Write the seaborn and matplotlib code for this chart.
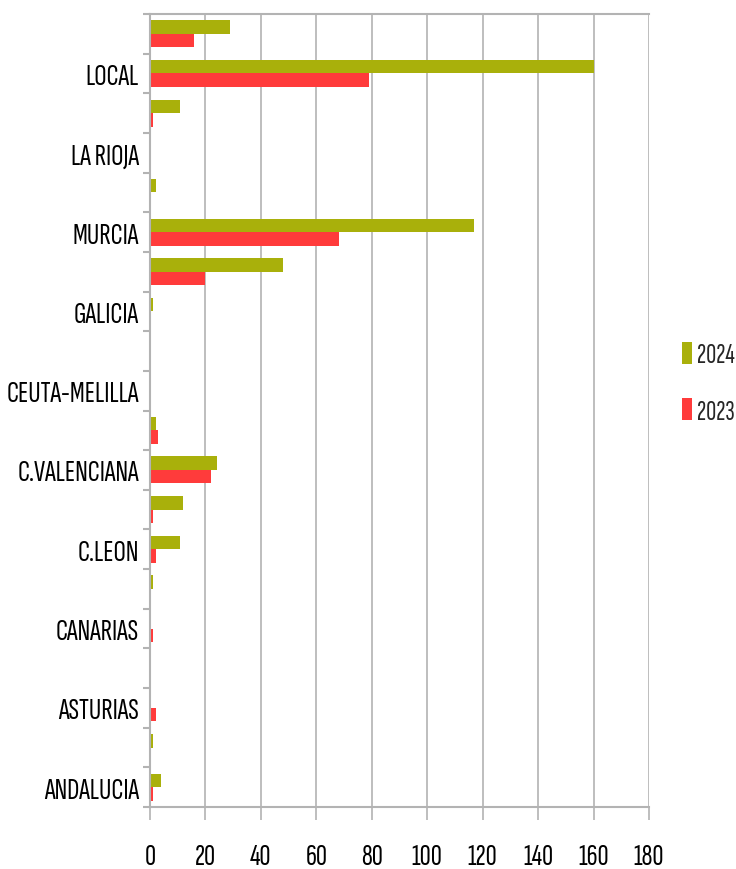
import matplotlib
matplotlib.use("Agg")
import matplotlib.pyplot as plt
import seaborn as sns
import pandas as pd
import numpy as np

# categories from top to bottom
categories = ["ESTATAL", "LOCAL", "PAIS VASCO", "LA RIOJA", "NAVARRA", "MURCIA",
              "MADRID", "GALICIA", "EXTREMADURA", "CEUTA-MELILLA", "CATALUÑA",
              "C.VALENCIANA", "C.LA MANCHA", "C.LEON", "CANTABRIA", "CANARIAS",
              "BALEARES", "ASTURIAS", "ARAGON", "ANDALUCIA"]
shown_labels = ["", "LOCAL", "", "LA RIOJA", "", "MURCIA", "", "GALICIA", "",
                "CEUTA-MELILLA", "", "C.VALENCIANA", "", "C.LEON", "", "CANARIAS",
                "", "ASTURIAS", "", "ANDALUCIA"]
values_2024 = [29, 160, 11, 0.3, 2, 117, 48, 1, 0.3, 0.3, 2, 24, 12, 11, 1, 0.3, 0.3, 0.3, 1, 4]
values_2023 = [16, 79, 1, 0.3, 0.3, 68, 20, 0.3, 0.3, 0.3, 3, 22, 1, 2, 0.3, 1, 0.3, 2, 0.3, 1]
series = ["2024", "2023"]
x_ticks = [0, 20, 40, 60, 80, 100, 120, 140, 160, 180]

df = pd.DataFrame({
    "cat": categories * 2,
    "serie": ["2024"] * len(categories) + ["2023"] * len(categories),
    "val": values_2024 + values_2023,
})

sns.set_theme(style="white")
plt.rcParams["font.family"] = ["Sofia Sans Extra Condensed", "Saira ExtraCondensed",
                               "Roboto Condensed", "DejaVu Sans"]

fig = plt.figure(figsize=(7.36, 8.70), dpi=100)
ax = fig.add_axes([150 / 736, 1 - 808 / 870, (649 - 150) / 736, (808 - 15) / 870])

palette = {"2024": "#A9B00B", "2023": "#FF3B3B"}
sns.barplot(data=df, y="cat", x="val", hue="serie", hue_order=series,
            order=categories, orient="h", palette=palette, width=0.68,
            saturation=1, linewidth=0, ax=ax, legend=True)

ax.set_xlim(0, 180)
ax.set_ylim(len(categories) - 0.5, -0.5)
ax.set_xticks(x_ticks)
ax.set_xticklabels([str(t) for t in x_ticks], fontsize=22)
ax.set_yticks(range(len(categories)))
ax.set_yticklabels(shown_labels, fontsize=22)
ax.set_yticks(np.arange(-0.5, len(categories) + 0.5, 1), minor=True)
ax.tick_params(axis="y", which="major", length=0, pad=8, colors="black")
ax.tick_params(axis="y", which="minor", length=5, width=1.5, color="#b3b3b3", left=True)
ax.tick_params(axis="x", which="major", length=9, width=1.2, color="#b3b3b3", pad=17,
               bottom=True, labelcolor="black")
ax.set_xlabel("")
ax.set_ylabel("")
ax.xaxis.grid(True, color="#b3b3b3", linewidth=1.2)
ax.set_axisbelow(True)
for s in ["left", "bottom", "top"]:
    ax.spines[s].set_visible(True)
    ax.spines[s].set_color("#b3b3b3")
    ax.spines[s].set_linewidth(1.5)
ax.spines["right"].set_visible(False)

leg = ax.legend(loc="center left", bbox_to_anchor=(1.066, 0.535), frameon=False,
                fontsize=20, handlelength=0.36, handleheight=0.86, handletextpad=0.2,
                labelspacing=1.1, borderpad=0, borderaxespad=0)

fig.savefig("out.png", dpi=100)
